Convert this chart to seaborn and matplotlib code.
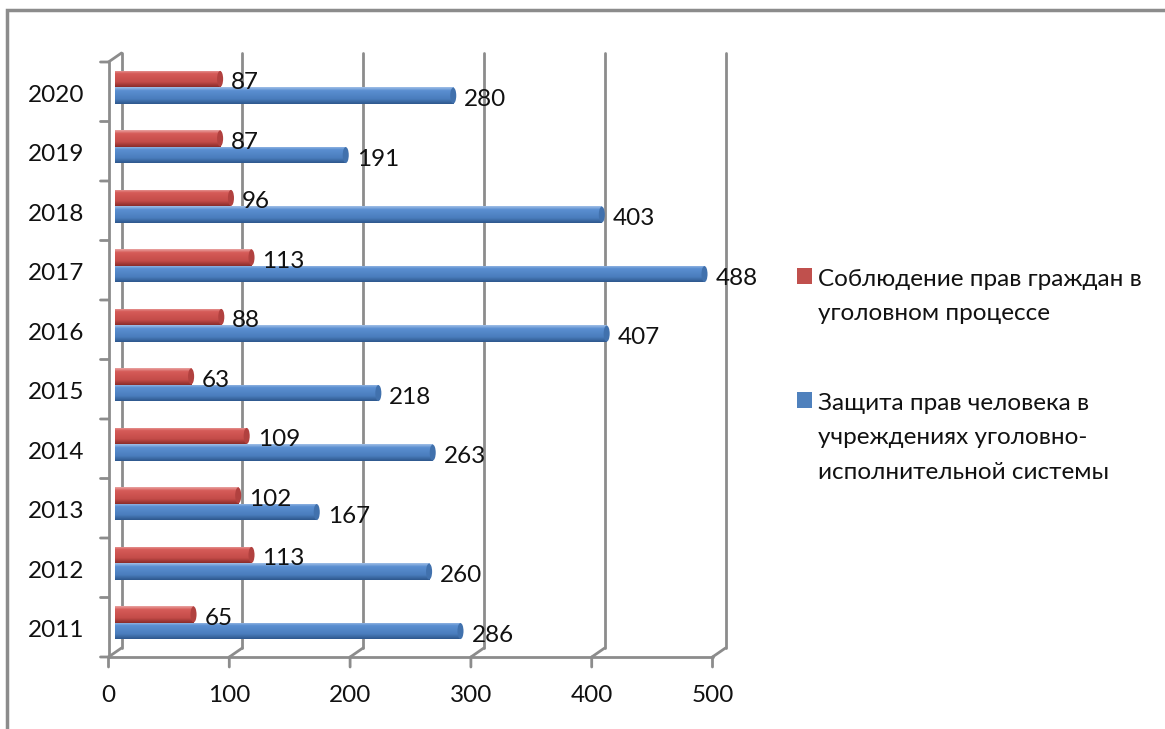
import numpy as np
import pandas as pd
import seaborn as sns
import matplotlib.pyplot as plt
from matplotlib.colors import LinearSegmentedColormap
from matplotlib.patches import Rectangle, Ellipse
from matplotlib.transforms import ScaledTranslation

years = ['2011', '2012', '2013', '2014', '2015', '2016', '2017', '2018', '2019', '2020']
prava_grazhdan = [65, 113, 102, 109, 63, 88, 113, 96, 87, 87]
zashchita_prav = [286, 260, 167, 263, 218, 407, 488, 403, 191, 280]
series_names = ['Соблюдение прав граждан в\nуголовном процессе',
                'Защита прав человека в\nучреждениях уголовно-\nисполнительной системы']
x_ticks = [0, 100, 200, 300, 400, 500]

sns.set_theme(style='white')
plt.rcParams['font.family'] = ['Lato', 'DejaVu Sans']

df = pd.DataFrame({
    'Year': years * 2,
    'Series': [series_names[0]] * len(years) + [series_names[1]] * len(years),
    'Value': prava_grazhdan + zashchita_prav,
})

W, H = 1165, 729
fs = 17.5
fig = plt.figure(figsize=(W / 100, H / 100), dpi=100)
# axes = the plane the bars sit in (middle of the 3D depth)
ax = fig.add_axes([115 / W, (H - 652.5) / H, 604 / W, 595 / H])

colors = {series_names[0]: '#c0504d', series_names[1]: '#4f81bd'}
sns.barplot(data=df, x='Value', y='Year', hue='Series', order=years[::-1],
            hue_order=series_names, palette=colors, orient='h', width=0.56,
            dodge=True, legend=False, ax=ax, saturation=1)

ax.set_xlim(0, 500)
ax.set_ylim(9.5, -0.5)
for s in ax.spines.values():
    s.set_visible(False)
ax.set_xticks([])
ax.set_yticks([])
ax.set_xlabel('')
ax.set_ylabel('')
ax.patch.set_alpha(0)

# cylinder-like shading
ramps = {
    '#c0504d': LinearSegmentedColormap.from_list(
        'r', [(0, '#e9a3a1'), (0.2, '#d65b58'), (0.7, '#c44c49'), (1, '#8a2c2a')]),
    '#4f81bd': LinearSegmentedColormap.from_list(
        'b', [(0, '#a0bfe7'), (0.2, '#5b8fd1'), (0.7, '#4a7dbd'), (1, '#2e588d')]),
}
grad = np.linspace(0, 1, 64).reshape(-1, 1)
bars = list(ax.patches)
for p in bars:
    fc = p.get_facecolor()
    key = '#c0504d' if fc[0] > fc[2] else '#4f81bd'
    x0, y0, w, h = p.get_x(), p.get_y(), p.get_width(), p.get_height()
    im = ax.imshow(grad, cmap=ramps[key], extent=(x0, x0 + w, y0 + h, y0),
                   aspect='auto', origin='upper', zorder=3)
    im.set_clip_path(p)
    cap = Ellipse((x0 + w, y0 + h / 2), 5, h * 0.96, facecolor=ramps[key](0.8),
                  edgecolor='none', zorder=4)
    ax.add_patch(cap)
    ax.annotate(f'{int(round(w))}', xy=(x0 + w, y0 + h / 2), xytext=(11, -4),
                textcoords='offset pixels', ha='left', va='center',
                fontsize=fs, color='#111111', zorder=5)
ax.set_xlim(0, 500)
ax.set_ylim(9.5, -0.5)

# 3D walls: back wall offset up-right, front floor offset down-left
back = ax.transData + ScaledTranslation(6.5 / 100, 4.5 / 100, fig.dpi_scale_trans)
front = ax.transData + ScaledTranslation(-6.5 / 100, -4.5 / 100, fig.dpi_scale_trans)
gc = '#8c8c8c'
seg = dict(arrowstyle='-', color=gc, lw=2, shrinkA=0, shrinkB=0)
for v in x_ticks:
    ax.plot([v, v], [9.5, -0.5], color=gc, lw=2, transform=back, clip_on=False, zorder=1)
    # small diagonal between front floor and back wall
    ax.annotate('', xy=(v, 9.5), xycoords=back, xytext=(v, 9.5), textcoords=front,
                arrowprops=seg)
    ax.annotate('', xy=(v, 9.5), xycoords=front, xytext=(0, -10), textcoords='offset pixels',
                arrowprops=seg)
    ax.annotate(str(v), xy=(v, 9.5), xycoords=front, xytext=(0, -38),
                textcoords='offset pixels', ha='center', va='center',
                fontsize=fs, color='#111111')
ax.plot([0, 500], [9.5, 9.5], color=gc, lw=2, transform=front, clip_on=False)
ax.annotate('', xy=(0, 9.5), xycoords=front, xytext=(-8, 0), textcoords='offset pixels',
            arrowprops=seg)
# left wall
ax.plot([0, 0], [9.5, -0.5], color=gc, lw=2, transform=front, clip_on=False)
ax.annotate('', xy=(0, -0.5), xycoords=back, xytext=(0, -0.5), textcoords=front,
            arrowprops=seg)
for k in range(len(years)):
    ax.annotate('', xy=(0, k - 0.5), xycoords=front, xytext=(-8, 0), textcoords='offset pixels',
                arrowprops=seg)
for k, yr in enumerate(years[::-1]):
    ax.annotate(yr, xy=(0, k), xytext=(-31, -8), textcoords='offset pixels',
                ha='right', va='center', fontsize=fs, color='#111111')

# legend (handles aligned with first line, like the original)
leg_items = [(series_names[0], '#c0504d', 276), (series_names[1], '#4f81bd', 400)]
for label, col, ypx in leg_items:
    fig.patches.append(Rectangle((797 / W, 1 - (ypx + 8) / H), 15 / W, 16 / H,
                                 transform=fig.transFigure, facecolor=col, edgecolor='none'))
    fig.text(818 / W, 1 - (ypx - 7) / H, label, ha='left', va='top', fontsize=fs,
             color='#111111', linespacing=1.78)

# chart area border
fig.patches.append(Rectangle((7 / W, -0.05), 1.1, 1.05 - 10 / H, transform=fig.transFigure,
                             facecolor='none', edgecolor='#8c8c8c', lw=2.5))

fig.savefig('out.png', dpi=100)
